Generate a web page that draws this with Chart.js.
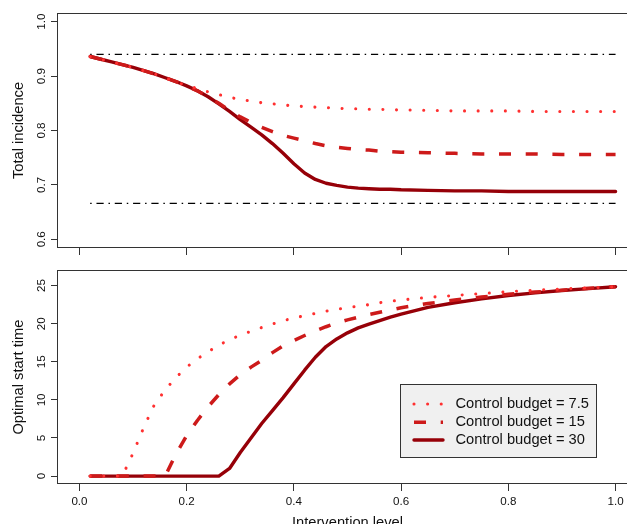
<!DOCTYPE html>
<html><head><meta charset="utf-8">
<script src="https://cdn.jsdelivr.net/npm/chart.js@4.4.1/dist/chart.umd.min.js"></script>
<style>
html,body{margin:0;padding:0;overflow:hidden;background:#fff;width:627px;height:524px;position:relative}
canvas{position:absolute;left:0}
#c1{top:0}
#c2{top:260px}
</style></head><body>
<canvas id="c1" width="660" height="260" style="width:660px;height:260px"></canvas>
<canvas id="c2" width="660" height="274" style="width:660px;height:274px"></canvas>
<script>
// ---- data ----
const interventionLevel = [0.02,0.04,0.06,0.08,0.10,0.12,0.14,0.16,0.18,0.20,0.22,0.24,0.26,0.28,0.30,0.32,0.34,0.36,0.38,0.40,0.42,0.44,0.46,0.48,0.50,0.52,0.54,0.56,0.58,0.60,0.65,0.70,0.75,0.80,0.85,0.90,0.95,1.00];

const incidenceBudget7_5 = [0.936,0.931,0.926,0.921,0.916,0.910,0.904,0.897,0.889,0.883,0.877,0.871,0.866,0.861,0.857,0.854,0.851,0.849,0.847,0.845,0.844,0.843,0.842,0.841,0.840,0.840,0.839,0.839,0.838,0.838,0.837,0.836,0.836,0.836,0.835,0.835,0.835,0.835];
const incidenceBudget15 = [0.936,0.931,0.926,0.921,0.916,0.910,0.904,0.897,0.890,0.882,0.873,0.862,0.850,0.837,0.825,0.815,0.806,0.798,0.791,0.786,0.781,0.776,0.772,0.769,0.767,0.765,0.764,0.762,0.761,0.760,0.759,0.758,0.757,0.757,0.757,0.756,0.756,0.756];
const incidenceBudget30 = [0.936,0.931,0.926,0.921,0.916,0.910,0.904,0.897,0.890,0.882,0.873,0.862,0.849,0.835,0.820,0.806,0.792,0.776,0.758,0.739,0.722,0.710,0.703,0.699,0.696,0.694,0.693,0.692,0.692,0.691,0.690,0.689,0.689,0.688,0.688,0.688,0.688,0.688];

const startBudget7_5 = [0,0,0,0,3.0,6.4,9.4,11.3,12.95,14.3,15.4,16.3,17.2,17.9,18.5,19.0,19.5,19.95,20.4,20.75,21.05,21.35,21.65,21.9,22.1,22.3,22.5,22.75,22.95,23.1,23.45,23.7,23.95,24.2,24.4,24.55,24.7,24.85];
const startBudget15 = [0,0,0,0,0,0,0,0,2.9,5.3,7.3,9.1,10.7,12.1,13.3,14.3,15.2,16.2,17.1,17.8,18.45,19.05,19.6,20.1,20.5,20.85,21.2,21.5,21.8,22.1,22.65,23.1,23.5,23.85,24.15,24.4,24.65,24.85];
const startBudget30 = [0,0,0,0,0,0,0,0,0,0,0,0,0,1.0,3.1,5.0,6.9,8.6,10.3,12.1,13.9,15.6,17.0,18.0,18.8,19.45,19.95,20.4,20.85,21.25,22.15,22.75,23.25,23.7,24.05,24.35,24.6,24.85];

const referenceX = [0.02, 1.00];
const referenceUpper = 0.94;
const referenceLower = 0.666;

const seriesLabels = ['Control budget = 7.5','Control budget = 15','Control budget = 30'];

const xTicks = [0,0.2,0.4,0.6,0.8,1.0];
const xTickLabels = ['0.0','0.2','0.4','0.6','0.8','1.0'];
const yTopTicks = [0.6,0.7,0.8,0.9,1.0];
const yTopTickLabels = ['0.6','0.7','0.8','0.9','1.0'];
const yBottomTicks = [0,5,10,15,20,25];
const yBottomTickLabels = ['0','5','10','15','20','25'];

// ---- styles ----
const FONT = '"Liberation Sans", Arial, Helvetica, sans-serif';
const INK = '#111';
const TICK_SIZE = 11.6;
const TITLE_SIZE = 14.7;
const styles = [
  {borderColor:'#FF3030', borderWidth:3.1, borderDash:[0.01,13.6], borderCapStyle:'round'},
  {borderColor:'#CD1A1A', borderWidth:3.5, borderDash:[12,14.7], borderCapStyle:'butt'},
  {borderColor:'#960008', borderWidth:3.4, borderDash:[], borderCapStyle:'round'}
];
const pts = (xs, ys) => xs.map((x,i)=>({x:x, y:ys[i]}));
const refPts = (v) => referenceX.map(x=>({x:x, y:v}));

function series(vals){
  return vals.map((v,i)=>Object.assign({
    label: seriesLabels[i], data: pts(interventionLevel, v), order: i,
    pointRadius:0, fill:false, tension:0, borderJoinStyle:'round'
  }, styles[i]));
}
function refSet(v){
  return {label:'ref', data: refPts(v), order: 5, borderColor:'#000', borderWidth:1.4,
    borderDash:[1.5,4.8,7.2,4.8], pointRadius:0, fill:false};
}

const boxPlugin = {
  id:'plotBox',
  afterDraw(chart){
    const a = chart.chartArea, ctx = chart.ctx;
    ctx.save();
    ctx.strokeStyle = '#333'; ctx.lineWidth = 1;
    ctx.strokeRect(Math.round(a.left)-0.5, Math.round(a.top)+0.5, Math.round(a.right-a.left)+1, Math.round(a.bottom-a.top)-1);
    const lg = chart.options.plugins.plotBox && chart.options.plugins.plotBox.legend;
    if (lg) {
      ctx.fillStyle = '#f0f0f0';
      ctx.fillRect(lg.x, lg.y, lg.w, lg.h);
      ctx.strokeStyle = '#333';
      ctx.strokeRect(lg.x, lg.y, lg.w, lg.h);
      chart.data.datasets.slice(0,3).forEach((ds,i)=>{
        const y = lg.rows[i];
        ctx.save();
        ctx.strokeStyle = ds.borderColor; ctx.lineWidth = ds.borderWidth;
        ctx.setLineDash(ds.borderDash); ctx.lineCap = ds.borderCapStyle;
        ctx.beginPath(); ctx.moveTo(lg.s0, y); ctx.lineTo(lg.s1, y); ctx.stroke();
        ctx.restore();
        ctx.fillStyle = INK; ctx.font = lg.font; ctx.textBaseline = 'middle'; ctx.textAlign='left';
        ctx.fillText(ds.label, lg.tx, y);
      });
    }
    ctx.restore();
  }
};

function xScale(showLabels){
  return {
    type:'linear', min:-0.04, max:1.04,
    afterBuildTicks: s => { s.ticks = xTicks.map(v=>({value:v})); },
    ticks:{display:showLabels, font:{family:FONT,size:TICK_SIZE}, color:INK, padding:4,
      maxRotation:0, minRotation:0, callback:(v,i)=>xTickLabels[i]},
    grid:{drawOnChartArea:false, drawTicks:true, tickLength:7, color:'#333', lineWidth:1},
    border:{display:false},
    title: showLabels ? {display:true, text:'Intervention level', color:INK,
      font:{family:FONT,size:TITLE_SIZE}, padding:{top:0,bottom:2.5}} : {display:false},
    afterFit: s => { s.height = showLabels ? 50 : 12; }
  };
}
function yScale(min,max,ticks,labels,title,pad){
  return {
    type:'linear', min:min, max:max,
    afterBuildTicks: s => { s.ticks = ticks.map(v=>({value:v})); },
    ticks:{font:{family:FONT,size:TICK_SIZE}, color:INK, minRotation:90, maxRotation:90,
      crossAlign:'center', padding:pad, callback:(v,i)=>labels[i]},
    grid:{drawOnChartArea:false, drawTicks:true, tickLength:7, color:'#333', lineWidth:1},
    border:{display:false},
    title:{display:true, text:title, color:INK, font:{family:FONT,size:TITLE_SIZE}, padding:{top:10.4,bottom:0}},
    afterFit: s => { s.width = 58; }
  };
}

const common = {
  responsive:false, animation:false, devicePixelRatio: window.devicePixelRatio || 1,
  events:[]
};

new Chart(document.getElementById('c1'), {
  type:'line',
  data:{datasets:[...series([incidenceBudget7_5, incidenceBudget15, incidenceBudget30]), refSet(referenceUpper), refSet(referenceLower)]},
  options:Object.assign({}, common, {
    layout:{padding:{left:0, top:13, right:23, bottom:0}},
    scales:{x:xScale(false), y:yScale(0.584,1.016,yTopTicks,yTopTickLabels,'Total incidence',1.5)},
    plugins:{legend:{display:false}, tooltip:{enabled:false}, plotBox:{}}
  }),
  plugins:[boxPlugin]
});

new Chart(document.getElementById('c2'), {
  type:'line',
  data:{datasets:series([startBudget7_5, startBudget15, startBudget30])},
  options:Object.assign({}, common, {
    layout:{padding:{left:0, top:10, right:23, bottom:0}},
    scales:{x:xScale(true), y:yScale(-1.04,27.04,yBottomTicks,yBottomTickLabels,'Optimal start time',3.1)},
    plugins:{legend:{display:false}, tooltip:{enabled:false},
      plotBox:{legend:{x:400.5, y:124.5, w:196, h:73, rows:[144,162.3,180], s0:414, s1:443, tx:455.5,
        font:'14.7px ' + FONT}}}
  }),
  plugins:[boxPlugin]
});
</script>
</body></html>
